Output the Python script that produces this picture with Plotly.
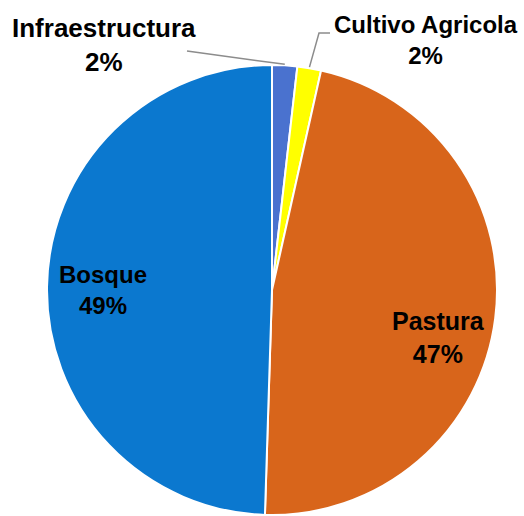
import math
import plotly.graph_objects as go

categories = ["Infraestructura", "Cultivo Agricola", "Pastura", "Bosque"]
values = [1.8, 1.7, 47.0, 49.5]
pct_labels = ["2%", "2%", "47%", "49%"]
colors = ["#4a72cf", "#ffff00", "#d8651b", "#0b78cf"]

W, H = 524, 516
# pie placement (pixels)
CX, CY, R = 272, 290, 225

def px(x):
    return x / W

def py(y):
    return 1 - y / H

fig = go.Figure(go.Pie(
    labels=categories,
    values=values,
    sort=False,
    direction="clockwise",
    rotation=0,
    marker=dict(colors=colors, line=dict(color="white", width=2)),
    textinfo="none",
    hoverinfo="label+percent",
    domain=dict(x=[px(CX - R), px(CX + R)], y=[py(CY + R), py(CY - R)]),
    showlegend=False,
))

# angles of slice midpoints (clockwise from 12 o'clock), from the data
total = sum(values)
cum = 0
mids = []
for v in values:
    mids.append((cum + v / 2) / total * 2 * math.pi)
    cum += v

def edge(i, rr=R):
    a = mids[i]
    return CX + rr * math.sin(a), CY - rr * math.cos(a)

label_pos = {
    "Infraestructura": (104, 45, 26),
    "Cultivo Agricola": (426, 40, 24),
    "Pastura": (438, 337, 25),
    "Bosque": (103, 290, 24),
}

annotations = []
for i, c in enumerate(categories):
    x, y, s = label_pos[c]
    annotations.append(dict(
        x=px(x), y=py(y), xref="paper", yref="paper",
        text="<b>%s<br>%s</b>" % (c, pct_labels[i]),
        showarrow=False,
        font=dict(family="Liberation Sans, Arial, sans-serif", size=s, color="black"),
        xanchor="center", yanchor="middle",
        align="center",
    ))

shapes = []
# leader line Infraestructura
ex, ey = edge(0, R + 1)
shapes.append(dict(type="line", xref="paper", yref="paper",
                   x0=px(187), y0=py(51), x1=px(ex), y1=py(ey),
                   line=dict(color="#8c8c8c", width=1.5)))
# leader line Cultivo Agricola (elbow)
ex, ey = edge(1, R + 1)
shapes.append(dict(type="path", xref="paper", yref="paper",
                   path="M %f,%f L %f,%f L %f,%f" % (px(330), py(33), px(319), py(33), px(ex), py(ey)),
                   line=dict(color="#8c8c8c", width=1.5)))

fig.update_layout(
    width=W, height=H,
    margin=dict(l=0, r=0, t=0, b=0),
    paper_bgcolor="white", plot_bgcolor="white",
    annotations=annotations,
    shapes=shapes,
)

fig.write_html("out.html", config={"displayModeBar": False},
               post_script="document.body.style.margin='0';document.body.style.overflow='hidden';")
